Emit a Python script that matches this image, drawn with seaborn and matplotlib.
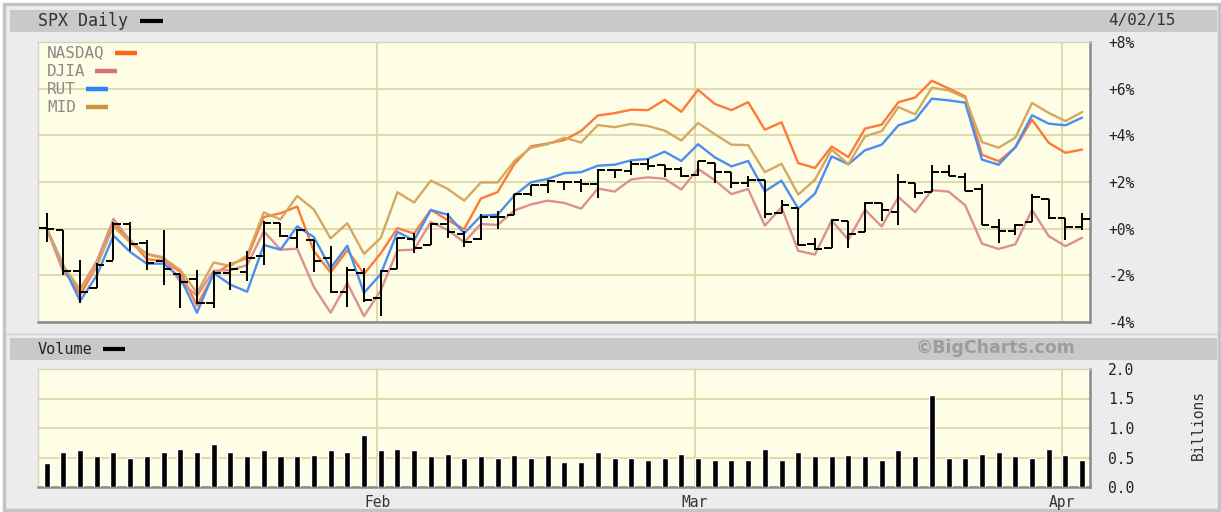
import matplotlib
matplotlib.use("Agg")
import matplotlib.pyplot as plt
from matplotlib.lines import Line2D
from matplotlib.patches import Rectangle
import numpy as np
import pandas as pd
import seaborn as sns

W, H = 1221, 512

# trading days, 2 Jan - 2 Apr 2015
dates = pd.bdate_range("2015-01-02", "2015-04-02").drop(pd.to_datetime(["2015-01-19", "2015-02-16"]))
month_labels = ["Feb", "Mar", "Apr"]

# SPX daily bars, % change vs 2 Jan close
spx_open = [0.03, -0.05, -1.80, -2.55, -1.40, 0.20, -0.62, -1.40, -1.93, -2.16,
            -3.20, -1.88, -1.85, -1.16, 0.23, -0.38, -0.50, -1.25, -2.71, -1.89,
            -2.99, -1.72, -0.45, -0.72, 0.20, -0.23, -0.43, 0.50, 0.57, 1.49,
            1.86, 1.99, 2.00, 1.92, 2.51, 2.47, 2.77, 2.71, 2.56, 2.28,
            2.80, 2.41, 1.96, 2.07, 0.68, 0.87, -0.66, -0.83, 0.31, -0.14,
            1.09, 0.71, 1.97, 1.56, 2.42, 2.22, 1.70, 0.09, -0.12, 0.29,
            1.26, 0.46, 0.09]
spx_high = [0.69, -0.05, -1.36, -1.45, 0.29, 0.27, -0.50, -0.06, -1.93, -1.79,
            -1.83, -1.42, -0.97, 0.31, 0.23, -0.03, -0.50, -0.76, -1.63, -1.70,
            -1.77, -0.38, -0.17, 0.26, 0.69, -0.10, 0.62, 0.74, 1.47, 1.89,
            2.10, 2.05, 2.14, 2.55, 2.52, 2.90, 2.98, 2.71, 2.65, 2.88,
            2.80, 2.41, 2.24, 2.07, 1.23, 0.87, -0.39, 0.40, 0.31, 1.13,
            1.09, 2.36, 1.97, 2.71, 2.75, 2.40, 1.91, 0.43, 0.22, 1.50,
            1.26, 0.46, 0.68]
spx_low = [-0.59, -2.00, -3.19, -2.56, -1.34, -0.97, -1.78, -2.43, -3.39, -3.24,
           -3.40, -2.61, -2.24, -1.55, -0.37, -0.83, -1.86, -2.76, -3.35, -3.15,
           -3.76, -1.72, -1.04, -0.72, -0.40, -0.79, -0.47, -0.01, 0.57, 1.39,
           1.54, 1.65, 1.58, 1.32, 2.16, 2.32, 2.51, 2.21, 2.21, 2.25,
           1.95, 1.76, 1.80, 0.44, 0.68, -0.68, -0.90, -0.83, -0.83, -0.14,
           0.33, 0.15, 1.33, 1.56, 2.25, 1.62, 0.14, -0.62, -0.26, 0.29,
           0.43, -0.48, -0.04]
spx_close = [0.00, -1.83, -2.70, -1.57, 0.19, -0.65, -1.45, -1.71, -2.28, -3.18,
             -1.88, -1.73, -1.27, 0.24, -0.31, -0.05, -1.39, -2.72, -1.79, -3.07,
             -1.81, -0.40, -0.81, 0.21, -0.13, -0.56, 0.50, 0.50, 1.47, 1.89,
             2.05, 2.02, 1.91, 2.53, 2.50, 2.78, 2.70, 2.55, 2.25, 2.88,
             2.41, 1.96, 2.08, 0.64, 1.03, -0.68, -0.87, 0.38, -0.23, 1.12,
             0.78, 2.01, 1.51, 2.42, 2.25, 1.62, 0.14, -0.10, 0.14, 1.36,
             0.47, 0.07, 0.43]

# comparison indexes, % change
nasdaq = [0.00, -1.57, -2.84, -1.61, 0.20, -0.48, -1.31, -1.38, -1.85, -3.30,
          -1.96, -1.52, -1.26, 0.50, 0.66, 0.95, -0.96, -1.88, -0.92, -1.94,
          -1.06, 0.02, -0.21, 0.81, 0.37, -0.02, 1.29, 1.57, 2.77, 3.53,
          3.65, 3.80, 4.19, 4.85, 4.95, 5.10, 5.08, 5.52, 5.01, 5.95,
          5.35, 5.08, 5.42, 4.24, 4.56, 2.81, 2.60, 3.52, 3.07, 4.29,
          4.46, 5.42, 5.62, 6.34, 6.01, 5.67, 3.17, 2.89, 3.48, 4.67,
          3.68, 3.25, 3.39]
djia = [0.00, -1.86, -2.59, -1.39, 0.42, -0.54, -1.08, -1.23, -2.28, -2.87,
        -1.80, -1.78, -1.56, -0.11, -0.90, -0.86, -2.50, -3.60, -2.33, -3.75,
        -2.65, -0.93, -0.90, 0.29, -0.05, -0.58, 0.20, 0.16, 0.78, 1.04,
        1.20, 1.10, 0.86, 1.72, 1.59, 2.11, 2.20, 2.14, 1.68, 2.56,
        2.08, 1.48, 1.70, 0.13, 0.91, -0.95, -1.11, 0.35, -0.47, 0.81,
        0.09, 1.36, 0.71, 1.65, 1.59, 1.00, -0.64, -0.87, -0.67, 0.80,
        -0.32, -0.75, -0.39]
rut = [0.00, -1.60, -3.10, -2.00, -0.30, -1.00, -1.50, -1.50, -2.10, -3.60,
       -1.90, -2.40, -2.70, -0.70, -0.90, 0.10, -0.36, -1.70, -0.73, -2.75,
       -1.95, -0.14, -0.50, 0.80, 0.60, -0.20, 0.55, 0.60, 1.42, 1.99,
       2.13, 2.38, 2.42, 2.70, 2.74, 2.93, 2.99, 3.30, 2.90, 3.62,
       3.06, 2.67, 2.90, 1.60, 2.06, 0.86, 1.50, 3.10, 2.76, 3.36,
       3.60, 4.43, 4.67, 5.57, 5.50, 5.40, 2.96, 2.74, 3.50, 4.86,
       4.50, 4.43, 4.76]
mid = [0.00, -1.60, -2.60, -1.60, 0.10, -0.60, -1.10, -1.27, -1.77, -2.75,
       -1.45, -1.60, -1.15, 0.70, 0.40, 1.40, 0.82, -0.42, 0.23, -1.08,
       -0.40, 1.56, 1.12, 2.06, 1.71, 1.20, 1.98, 1.98, 2.90, 3.47,
       3.62, 3.90, 3.69, 4.44, 4.35, 4.49, 4.40, 4.20, 3.78, 4.53,
       4.05, 3.60, 3.58, 2.42, 2.78, 1.46, 2.10, 3.39, 2.76, 3.96,
       4.18, 5.21, 4.90, 6.04, 5.93, 5.61, 3.71, 3.47, 3.90, 5.39,
       4.96, 4.61, 5.00]

# SPX volume, billions
volume = [0.41, 0.59, 0.62, 0.52, 0.59, 0.49, 0.52, 0.59, 0.65, 0.59,
          0.73, 0.59, 0.52, 0.62, 0.52, 0.52, 0.54, 0.62, 0.59, 0.88,
          0.62, 0.65, 0.62, 0.52, 0.56, 0.49, 0.52, 0.49, 0.54, 0.49,
          0.54, 0.43, 0.43, 0.59, 0.49, 0.49, 0.46, 0.49, 0.56, 0.49,
          0.46, 0.46, 0.46, 0.65, 0.46, 0.59, 0.52, 0.52, 0.54, 0.52,
          0.46, 0.62, 0.52, 1.56, 0.49, 0.49, 0.56, 0.59, 0.52, 0.49,
          0.65, 0.54, 0.46]

series_names = ["NASDAQ", "DJIA", "RUT", "MID"]
line_colors = {"NASDAQ": "#ff7a36", "DJIA": "#dc9090", "RUT": "#4a8ff0", "MID": "#d4a862"}
legend_colors = {"NASDAQ": "#ff6414", "DJIA": "#d27474", "RUT": "#2a80ff", "MID": "#c8963c"}

idx = np.arange(len(dates))
month_idx = [int(np.argmax(dates.month == m)) for m in (2, 3, 4)]

lines = pd.concat(
    [pd.DataFrame({"idx": idx, "pct": v, "index": n})
     for n, v in zip(series_names, [nasdaq, djia, rut, mid])],
    ignore_index=True,
)

sns.set_style("white")
plt.rcParams["font.family"] = ["DejaVu Sans Mono", "DejaVu Sans"]

fig = plt.figure(figsize=(W / 100, H / 100), dpi=100, facecolor="white")


def box(x0, y0, x1, y1, **kw):
    fig.add_artist(Rectangle((x0 / W, 1 - y1 / H), (x1 - x0) / W, (y1 - y0) / H,
                             transform=fig.transFigure, zorder=-10, **kw))


def hline_px(x0, x1, y, color, lw, z=5):
    fig.add_artist(Line2D([x0 / W, x1 / W], [1 - y / H, 1 - y / H],
                          transform=fig.transFigure, color=color, lw=lw,
                          solid_capstyle="butt", zorder=z))


# frame and header strips
box(4, 4, 1219, 510, facecolor="#ececec", edgecolor="#c4c4c4", lw=2.5)
box(10, 10, 1217, 32, facecolor="#c9c9c9", edgecolor="none")
box(10, 338, 1217, 360, facecolor="#c9c9c9", edgecolor="none")
hline_px(6, 1217, 334, "#d0d0d0", 1.0, z=-5)

xlim = (-0.52, len(idx) - 0.53)
plot_bg = "#fefde6"
grid_c = "#dcd8aa"

# price panel
ax = fig.add_axes([38 / W, 1 - 322 / H, 1052 / W, 280 / H])
ax.set_facecolor(plot_bg)
sns.lineplot(data=lines, x="idx", y="pct", hue="index", palette=line_colors,
             hue_order=series_names, estimator=None, linewidth=1.7,
             legend=False, ax=ax, zorder=2)
ax.vlines(idx, spx_low, spx_high, color="black", lw=1.4, zorder=3)
ax.hlines(spx_open, idx - 0.45, idx, color="black", lw=1.4, zorder=3)
ax.hlines(spx_close, idx, idx + 0.45, color="black", lw=1.4, zorder=3)
ax.set_xlim(*xlim)
ax.set_ylim(-4, 8)
ax.set_yticks([-4, -2, 0, 2, 4, 6, 8])
ax.set_yticklabels(["-4%", "-2%", "+0%", "+2%", "+4%", "+6%", "+8%"])
ax.yaxis.tick_right()
ax.set_xticks([])
ax.set_xlabel("")
ax.set_ylabel("")
ax.tick_params(axis="y", length=0, pad=13, labelsize=10.5, labelcolor="#222222")
ax.grid(axis="y", color=grid_c, lw=1.3)
for m in month_idx:
    ax.axvline(m - 0.2, color=grid_c, lw=1.3, zorder=1)

# volume panel
axv = fig.add_axes([38 / W, 1 - 487 / H, 1052 / W, 118 / H])
axv.set_facecolor(plot_bg)
sns.barplot(x=idx, y=volume, color="black", width=0.36, native_scale=True,
            ax=axv, zorder=3)
axv.set_xlim(*xlim)
axv.set_ylim(0, 2.0)
axv.set_yticks([0, 0.5, 1.0, 1.5, 2.0])
axv.set_yticklabels(["0.0", "0.5", "1.0", "1.5", "2.0"])
axv.yaxis.tick_right()
axv.set_xticks([m - 0.2 for m in month_idx])
axv.set_xticklabels(month_labels)
axv.set_xlabel("")
axv.set_ylabel("")
axv.tick_params(axis="y", length=0, pad=13, labelsize=10.5, labelcolor="#222222")
axv.tick_params(axis="x", length=0, pad=6, labelsize=10.5, labelcolor="#333333")
axv.grid(axis="y", color=grid_c, lw=1.3)
for m in month_idx:
    axv.axvline(m - 0.2, color=grid_c, lw=1.3, zorder=1)

for a in (ax, axv):
    for side in ("top", "left"):
        a.spines[side].set_color("#d4d4c0")
        a.spines[side].set_linewidth(1.0)
    for side in ("bottom", "right"):
        a.spines[side].set_color("#8a8a8a")
        a.spines[side].set_linewidth(1.8)

# header texts
char_w = 0.6021 * 12 * 100 / 72
fig.text(38 / W, 1 - 21 / H, "SPX Daily", fontsize=12, color="#333333", va="center")
hline_px(38 + 9 * char_w + 12, 38 + 9 * char_w + 35, 21, "black", 3)
fig.text(1108 / W, 1 - 21 / H, "4/02/15", fontsize=11.5, color="#333333", va="center")
char_w = 0.6021 * 11 * 100 / 72
fig.text(38 / W, 1 - 349 / H, "Volume", fontsize=11, color="#222222", va="center")
hline_px(38 + 6 * char_w + 10, 38 + 6 * char_w + 32, 349, "black", 3)
fig.text(995 / W, 1 - 348 / H, "\u00a9BigCharts.com", fontsize=12.5, color="#9c9c9c",
         fontweight="bold", family="DejaVu Sans", ha="center", va="center")
fig.text(1198 / W, 1 - 425 / H, "Billions", fontsize=10.5, color="#333333",
         rotation=90, ha="center", va="center")

# legend
leg_y = [53, 71, 89, 107]
leg_w = 0.6021 * 11.5 * 100 / 72
for name, y in zip(series_names, leg_y):
    fig.text(47 / W, 1 - y / H, name, fontsize=11.5, color="#8a8a8a", va="center")
    x0 = 47 + len(name) * leg_w + 10
    hline_px(x0, x0 + 22, y, legend_colors[name], 3.2)

fig.savefig("out.png", dpi=100, facecolor=fig.get_facecolor())
